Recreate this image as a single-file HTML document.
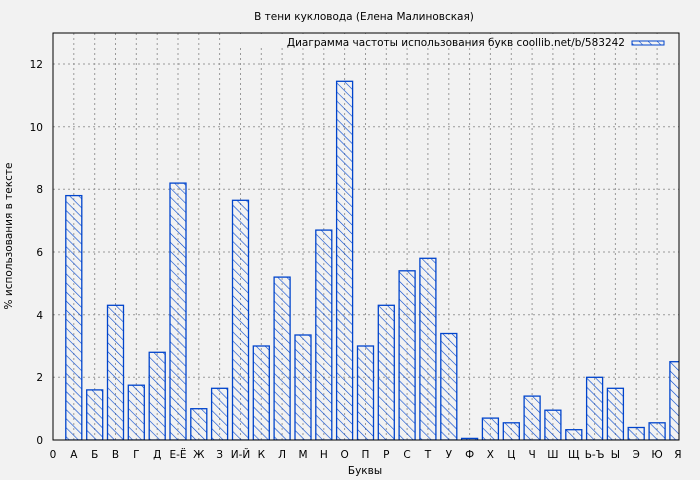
<!DOCTYPE html>
<html><head><meta charset="utf-8"><style>
html,body{margin:0;padding:0;background:#f2f2f2;overflow:hidden;width:700px;height:480px}
svg{display:block}
text{font-family:"DejaVu Sans","Liberation Sans",sans-serif;font-size:10.5px;fill:#000}
</style></head><body>
<svg width="700" height="480" xmlns="http://www.w3.org/2000/svg">
<defs>
<pattern id="h" patternUnits="userSpaceOnUse" width="6.4" height="8" patternTransform="rotate(-45)">
<line x1="0" y1="0" x2="0" y2="8" stroke="#0044cc" stroke-width="1.2"/>
</pattern>
<clipPath id="c"><rect x="53" y="33" width="626" height="407"/></clipPath>
</defs>
<rect width="700" height="480" fill="#f2f2f2"/>
<g stroke="#999" stroke-dasharray="2,3" stroke-width="1">
<line x1="53" x2="679" y1="377.3" y2="377.3"/><line x1="53" x2="679" y1="314.7" y2="314.7"/>
<line x1="53" x2="679" y1="252" y2="252"/><line x1="53" x2="679" y1="189.3" y2="189.3"/>
<line x1="53" x2="679" y1="126.7" y2="126.7"/><line x1="53" x2="679" y1="64" y2="64"/>
<line x1="73.8" x2="73.8" y1="33" y2="440"/><line x1="94.7" x2="94.7" y1="33" y2="440"/><line x1="115.5" x2="115.5" y1="33" y2="440"/><line x1="136.3" x2="136.3" y1="33" y2="440"/><line x1="157.2" x2="157.2" y1="33" y2="440"/><line x1="178" x2="178" y1="33" y2="440"/><line x1="198.8" x2="198.8" y1="33" y2="440"/><line x1="219.6" x2="219.6" y1="33" y2="440"/><line x1="240.5" x2="240.5" y1="33" y2="440"/><line x1="261.3" x2="261.3" y1="33" y2="440"/><line x1="282.1" x2="282.1" y1="33" y2="440"/><line x1="303" x2="303" y1="33" y2="440"/><line x1="323.8" x2="323.8" y1="33" y2="440"/><line x1="344.6" x2="344.6" y1="33" y2="440"/><line x1="365.5" x2="365.5" y1="33" y2="440"/><line x1="386.3" x2="386.3" y1="33" y2="440"/><line x1="407.1" x2="407.1" y1="33" y2="440"/><line x1="427.9" x2="427.9" y1="33" y2="440"/><line x1="448.8" x2="448.8" y1="33" y2="440"/><line x1="469.6" x2="469.6" y1="33" y2="440"/><line x1="490.4" x2="490.4" y1="33" y2="440"/><line x1="511.3" x2="511.3" y1="33" y2="440"/><line x1="532.1" x2="532.1" y1="33" y2="440"/><line x1="552.9" x2="552.9" y1="33" y2="440"/><line x1="573.8" x2="573.8" y1="33" y2="440"/><line x1="594.6" x2="594.6" y1="33" y2="440"/><line x1="615.4" x2="615.4" y1="33" y2="440"/><line x1="636.2" x2="636.2" y1="33" y2="440"/><line x1="657.1" x2="657.1" y1="33" y2="440"/>
</g>
<rect x="240" y="34" width="438" height="14" fill="#f2f2f2"/>
<g clip-path="url(#c)" fill="url(#h)" stroke="#0044cc" stroke-width="1.3">
<rect x="65.8" y="195.6" width="16" height="244.4"/>
<rect x="86.7" y="389.9" width="16" height="50.1"/>
<rect x="107.5" y="305.3" width="16" height="134.7"/>
<rect x="128.3" y="385.2" width="16" height="54.8"/>
<rect x="149.2" y="352.3" width="16" height="87.7"/>
<rect x="170" y="183.1" width="16" height="256.9"/>
<rect x="190.8" y="408.7" width="16" height="31.3"/>
<rect x="211.6" y="388.3" width="16" height="51.7"/>
<rect x="232.5" y="200.3" width="16" height="239.7"/>
<rect x="253.3" y="346" width="16" height="94"/>
<rect x="274.1" y="277.1" width="16" height="162.9"/>
<rect x="295" y="335" width="16" height="105"/>
<rect x="315.8" y="230.1" width="16" height="209.9"/>
<rect x="336.6" y="81.3" width="16" height="358.7"/>
<rect x="357.5" y="346" width="16" height="94"/>
<rect x="378.3" y="305.3" width="16" height="134.7"/>
<rect x="399.1" y="270.8" width="16" height="169.2"/>
<rect x="419.9" y="258.3" width="16" height="181.7"/>
<rect x="440.8" y="333.5" width="16" height="106.5"/>
<rect x="461.6" y="438.4" width="16" height="1.6"/>
<rect x="482.4" y="418.1" width="16" height="21.9"/>
<rect x="503.3" y="422.8" width="16" height="17.2"/>
<rect x="524.1" y="396.1" width="16" height="43.9"/>
<rect x="544.9" y="410.2" width="16" height="29.8"/>
<rect x="565.8" y="429.7" width="16" height="10.3"/>
<rect x="586.6" y="377.3" width="16" height="62.7"/>
<rect x="607.4" y="388.3" width="16" height="51.7"/>
<rect x="628.2" y="427.5" width="16" height="12.5"/>
<rect x="649.1" y="422.8" width="16" height="17.2"/>
<rect x="669.9" y="361.7" width="16" height="78.3"/>
</g>
<rect x="53" y="33" width="626" height="407" fill="none" stroke="#000" stroke-width="1"/>
<rect x="632" y="41" width="32" height="4" fill="url(#h)" stroke="#0044cc"/>
<text x="625" y="46" text-anchor="end">Диаграмма частоты использования букв coollib.net/b/583242</text>
<text x="364" y="20" text-anchor="middle">В тени кукловода (Елена Малиновская)</text>
<g text-anchor="end">
<text x="43" y="444">0</text><text x="43" y="381">2</text><text x="43" y="319">4</text><text x="43" y="256">6</text><text x="43" y="193">8</text><text x="43" y="131">10</text><text x="43" y="68">12</text>
</g>
<g text-anchor="middle">
<text x="53" y="458">0</text><text x="73.8" y="458">А</text><text x="94.7" y="458">Б</text><text x="115.5" y="458">В</text><text x="136.3" y="458">Г</text><text x="157.2" y="458">Д</text><text x="178" y="458">Е-Ё</text><text x="198.8" y="458">Ж</text><text x="219.6" y="458">З</text><text x="240.5" y="458">И-Й</text><text x="261.3" y="458">К</text><text x="282.1" y="458">Л</text><text x="303" y="458">М</text><text x="323.8" y="458">Н</text><text x="344.6" y="458">О</text><text x="365.5" y="458">П</text><text x="386.3" y="458">Р</text><text x="407.1" y="458">С</text><text x="427.9" y="458">Т</text><text x="448.8" y="458">У</text><text x="469.6" y="458">Ф</text><text x="490.4" y="458">Х</text><text x="511.3" y="458">Ц</text><text x="532.1" y="458">Ч</text><text x="552.9" y="458">Ш</text><text x="573.8" y="458">Щ</text><text x="594.6" y="458">Ь-Ъ</text><text x="615.4" y="458">Ы</text><text x="636.2" y="458">Э</text><text x="657.1" y="458">Ю</text><text x="677.9" y="458">Я</text>
<text x="365" y="474">Буквы</text>
<text transform="translate(12,236) rotate(-90)">% использования в тексте</text>
</g>
</svg>
</body></html>
